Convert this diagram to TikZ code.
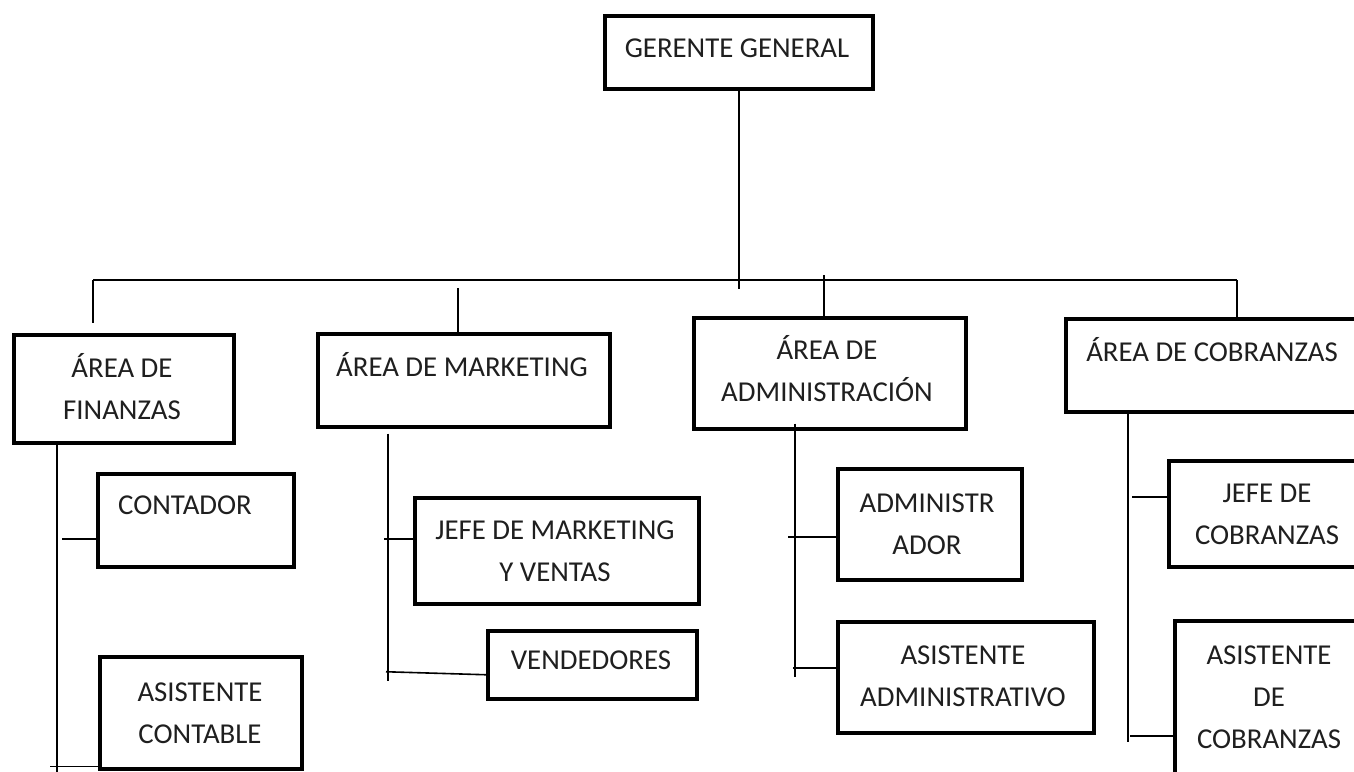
\documentclass[tikz,border=0pt]{standalone}
\usepackage{fontspec}
\setmainfont{Carlito}
\tikzset{
  box/.style={draw, line width=3.5pt, anchor=north west, inner sep=0pt},
  lbl/.style={anchor=base, inner sep=0pt, text=black!88, font=\fontsize{28.8}{42}\selectfont},
  conn/.style={line width=1.6pt}
}
\newcommand{\ml}[1]{\begin{tabular}[t]{@{}c@{}}#1\end{tabular}}
\begin{document}
\begin{tikzpicture}[x=1pt,y=-1pt]
\useasboundingbox (0,0) rectangle (1354,771);
\fill[white] (0,0) rectangle (1354,771);
\clip (0,0) rectangle (1354,771);

% boxes
\node[box, minimum width=268pt, minimum height=73pt] (gg) at (603,14) {};
\node[box, minimum width=220pt, minimum height=108pt] (fin) at (12,333) {};
\node[box, minimum width=196pt, minimum height=93pt] (cont) at (96,472) {};
\node[box, minimum width=202pt, minimum height=112pt] (asc) at (98,655) {};
\node[box, minimum width=292pt, minimum height=93pt] (mkt) at (316,332) {};
\node[box, minimum width=284pt, minimum height=106pt] (jmk) at (413,496) {};
\node[box, minimum width=209pt, minimum height=68pt] (ven) at (486,629) {};
\node[box, minimum width=272pt, minimum height=111pt] (adm) at (692,316) {};
\node[box, minimum width=184pt, minimum height=111pt] (admr) at (836,467) {};
\node[box, minimum width=256pt, minimum height=111pt] (asad) at (836,620) {};
\node[box, minimum width=296pt, minimum height=93pt] (cob) at (1064,317) {};
\node[box, minimum width=200pt, minimum height=106pt] (jcob) at (1167,459) {};
\node[box, minimum width=192pt, minimum height=171pt] (ascob) at (1173,619) {};

% labels
\node[lbl] (ggt) at (737,57.5) {GERENTE GENERAL};
\node[lbl] (fint) at (122,377.5) {\ml{ÁREA DE\\FINANZAS}};
\node[lbl] (contt) at (185,514.5) {CONTADOR};
\node[lbl] (asct) at (200,701.5) {\ml{ASISTENTE\\CONTABLE}};
\node[lbl] (mktt) at (462,376.5) {ÁREA DE MARKETING};
\node[lbl] (jmkt) at (555,539.5) {\ml{JEFE DE MARKETING\\Y VENTAS}};
\node[lbl] (vent) at (591,669.5) {VENDEDORES};
\node[lbl] (admt) at (827,359.5) {\ml{ÁREA DE\\ADMINISTRACIÓN}};
\node[lbl] (admrt) at (927,512.5) {\ml{ADMINISTR\\ADOR}};
\node[lbl] (asadt) at (963,664.5) {\ml{ASISTENTE\\ADMINISTRATIVO}};
\node[lbl] (cobt) at (1212,361.5) {ÁREA DE COBRANZAS};
\node[lbl] (jcobt) at (1267,502.5) {\ml{JEFE DE\\COBRANZAS}};
\node[lbl] (ascobt) at (1269,664.5) {\ml{ASISTENTE\\DE\\COBRANZAS}};

% top level connectors
\coordinate (barL) at (93,280);
\coordinate (barR) at (1237,280);
\coordinate (mktTop) at (458,288);
\coordinate (admTop) at (824,275);
\draw[conn] (gg.south) -- ++(0,198);
\draw[conn] (barL) -- (barR);
\draw[conn] (barL) -- ([yshift=10pt]barL |- fin.north);
\draw[conn] (mktTop) -- (mktTop |- mkt.north);
\draw[conn] (admTop) -- (admTop |- adm.north);
\draw[conn] (barR) -- (barR |- cob.north);

% spines
\draw[conn] ([xshift=-67pt]fin.south) -- ++(0,327);
\draw[conn] ([xshift=-76pt,yshift=-5pt]mkt.south) -- ++(0,247);
\draw[conn] ([xshift=-35pt,yshift=7pt]adm.south) -- ++(0,253);
\draw[conn] ([xshift=-86pt]cob.south) -- ++(0,328);

% branches
\draw[conn] ([yshift=-18.5pt]cont.west) -- ++(-34,0);
\draw[conn] ([yshift=4pt]asc.south west) -- ++(-48,0);
\draw[conn] ([yshift=12pt]jmk.west) -- ++(-29,0);
\draw[conn] ([yshift=-10pt]ven.west) -- ++(-100,-3);
\draw[conn] ([yshift=-12.5pt]admr.west) -- ++(-48,0);
\draw[conn] ([yshift=9.5pt]asad.west) -- ++(-43,0);
\draw[conn] ([yshift=17pt]jcob.west) -- ++(-35,0);
\draw[conn] ([yshift=-29.5pt]ascob.west) -- ++(-43,0);
\end{tikzpicture}
\end{document}
